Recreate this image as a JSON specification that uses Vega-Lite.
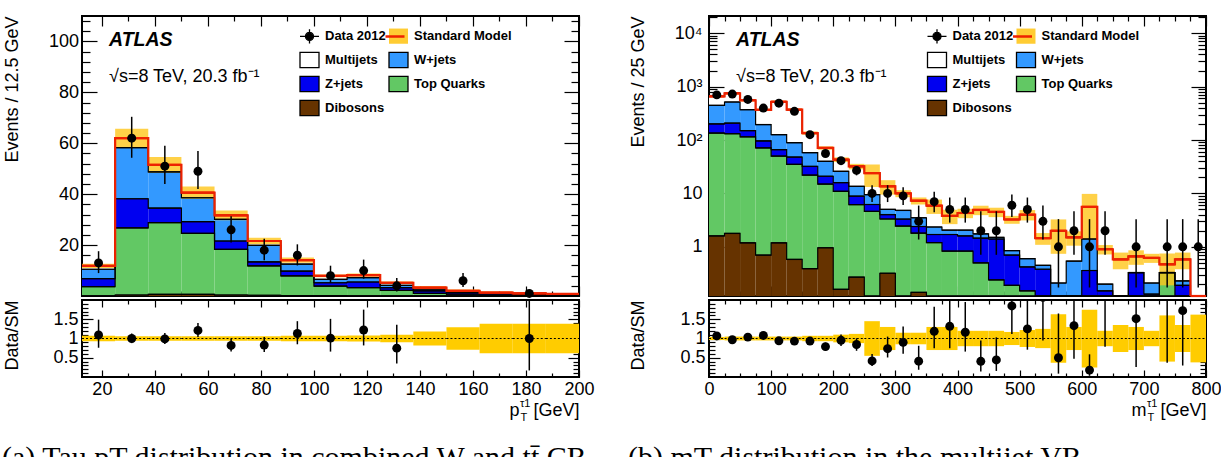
{
  "$schema": "https://vega.github.io/schema/vega-lite/v6.json",
  "background": "white",
  "padding": {"left": 1, "top": 14, "right": 2, "bottom": 0},
  "spacing": 31,
  "resolve": {"scale": {"fill": "independent", "stroke": "independent"}, "legend": {"fill": "independent", "stroke": "independent"}},
  "config": {
    "view": {"stroke": "black", "strokeWidth": 2},
    "font": "Liberation Sans",
    "axis": {"domain": false, "grid": false, "tickColor": "black", "tickWidth": 1.2, "labelFont": "Liberation Sans", "labelFontSize": 18, "labelColor": "black", "labelFlush": false, "labelOverlap": false, "titleFont": "Liberation Sans", "titleFontSize": 18, "titleFontWeight": "normal", "titleColor": "black"}
  },
  "datasets": {
    "ptBkg": [
      {"lo":12.5,"hi":25,"proc":"Dibosons","n":0.1},{"lo":12.5,"hi":25,"proc":"Top Quarks","n":3.6},{"lo":12.5,"hi":25,"proc":"Z+jets","n":3.1},{"lo":12.5,"hi":25,"proc":"W+jets","n":3.7},{"lo":12.5,"hi":25,"proc":"Multijets","n":1.3},
      {"lo":25,"hi":37.5,"proc":"Dibosons","n":0.4},{"lo":25,"hi":37.5,"proc":"Top Quarks","n":26.4},{"lo":25,"hi":37.5,"proc":"Z+jets","n":11.4},{"lo":25,"hi":37.5,"proc":"W+jets","n":20.1},{"lo":25,"hi":37.5,"proc":"Multijets","n":3.7},
      {"lo":37.5,"hi":50,"proc":"Dibosons","n":0.6},{"lo":37.5,"hi":50,"proc":"Top Quarks","n":28.2},{"lo":37.5,"hi":50,"proc":"Z+jets","n":5.7},{"lo":37.5,"hi":50,"proc":"W+jets","n":14.3},{"lo":37.5,"hi":50,"proc":"Multijets","n":2.7},
      {"lo":50,"hi":62.5,"proc":"Dibosons","n":0.6},{"lo":50,"hi":62.5,"proc":"Top Quarks","n":24.0},{"lo":50,"hi":62.5,"proc":"Z+jets","n":4.6},{"lo":50,"hi":62.5,"proc":"W+jets","n":9.4},{"lo":50,"hi":62.5,"proc":"Multijets","n":2.0},
      {"lo":62.5,"hi":75,"proc":"Dibosons","n":0.4},{"lo":62.5,"hi":75,"proc":"Top Quarks","n":17.9},{"lo":62.5,"hi":75,"proc":"Z+jets","n":3.3},{"lo":62.5,"hi":75,"proc":"W+jets","n":8.5},{"lo":62.5,"hi":75,"proc":"Multijets","n":1.6},
      {"lo":75,"hi":87.5,"proc":"Dibosons","n":0.3},{"lo":75,"hi":87.5,"proc":"Top Quarks","n":11.5},{"lo":75,"hi":87.5,"proc":"Z+jets","n":1.6},{"lo":75,"hi":87.5,"proc":"W+jets","n":6.5},{"lo":75,"hi":87.5,"proc":"Multijets","n":1.7},
      {"lo":87.5,"hi":100,"proc":"Dibosons","n":0.2},{"lo":87.5,"hi":100,"proc":"Top Quarks","n":7.7},{"lo":87.5,"hi":100,"proc":"Z+jets","n":1.9},{"lo":87.5,"hi":100,"proc":"W+jets","n":2.7},{"lo":87.5,"hi":100,"proc":"Multijets","n":1.6},
      {"lo":100,"hi":112.5,"proc":"Dibosons","n":0.15},{"lo":100,"hi":112.5,"proc":"Top Quarks","n":3.75},{"lo":100,"hi":112.5,"proc":"Z+jets","n":1.3},{"lo":100,"hi":112.5,"proc":"W+jets","n":1.3},{"lo":100,"hi":112.5,"proc":"Multijets","n":1.4},
      {"lo":112.5,"hi":125,"proc":"Dibosons","n":0.1},{"lo":112.5,"hi":125,"proc":"Top Quarks","n":3.2},{"lo":112.5,"hi":125,"proc":"Z+jets","n":2.2},{"lo":112.5,"hi":125,"proc":"W+jets","n":1.7},{"lo":112.5,"hi":125,"proc":"Multijets","n":1.0},
      {"lo":125,"hi":137.5,"proc":"Dibosons","n":0.1},{"lo":125,"hi":137.5,"proc":"Top Quarks","n":2.1},{"lo":125,"hi":137.5,"proc":"Z+jets","n":1.1},{"lo":125,"hi":137.5,"proc":"W+jets","n":0.9},{"lo":125,"hi":137.5,"proc":"Multijets","n":1.0},
      {"lo":137.5,"hi":150,"proc":"Dibosons","n":0.05},{"lo":137.5,"hi":150,"proc":"Top Quarks","n":0.95},{"lo":137.5,"hi":150,"proc":"Z+jets","n":1.0},{"lo":137.5,"hi":150,"proc":"W+jets","n":0.4},{"lo":137.5,"hi":150,"proc":"Multijets","n":0.9},
      {"lo":150,"hi":162.5,"proc":"Dibosons","n":0.05},{"lo":150,"hi":162.5,"proc":"Top Quarks","n":0.45},{"lo":150,"hi":162.5,"proc":"Z+jets","n":0.7},{"lo":150,"hi":162.5,"proc":"W+jets","n":0.4},{"lo":150,"hi":162.5,"proc":"Multijets","n":0.4},
      {"lo":162.5,"hi":175,"proc":"Dibosons","n":0.02},{"lo":162.5,"hi":175,"proc":"Top Quarks","n":0.28},{"lo":162.5,"hi":175,"proc":"Z+jets","n":0.5},{"lo":162.5,"hi":175,"proc":"W+jets","n":0.2},{"lo":162.5,"hi":175,"proc":"Multijets","n":0.3},
      {"lo":175,"hi":187.5,"proc":"Dibosons","n":0.02},{"lo":175,"hi":187.5,"proc":"Top Quarks","n":0.18},{"lo":175,"hi":187.5,"proc":"Z+jets","n":0.3},{"lo":175,"hi":187.5,"proc":"W+jets","n":0.3},{"lo":175,"hi":187.5,"proc":"Multijets","n":0.2},
      {"lo":187.5,"hi":200,"proc":"Dibosons","n":0.02},{"lo":187.5,"hi":200,"proc":"Top Quarks","n":0.15},{"lo":187.5,"hi":200,"proc":"Z+jets","n":0.25},{"lo":187.5,"hi":200,"proc":"W+jets","n":0.2},{"lo":187.5,"hi":200,"proc":"Multijets","n":0.18}
    ],
    "ptSM": [
      {"lo":12.5,"hi":25,"sm":11.8,"down":10.97,"up":12.63,"rDown":0.93,"rUp":1.07},
      {"lo":25,"hi":37.5,"sm":62.0,"down":58.28,"up":65.72,"rDown":0.94,"rUp":1.06},
      {"lo":37.5,"hi":50,"sm":51.5,"down":48.41,"up":54.59,"rDown":0.94,"rUp":1.06},
      {"lo":50,"hi":62.5,"sm":40.6,"down":38.16,"up":43.04,"rDown":0.94,"rUp":1.06},
      {"lo":62.5,"hi":75,"sm":31.7,"down":29.8,"up":33.6,"rDown":0.94,"rUp":1.06},
      {"lo":75,"hi":87.5,"sm":21.6,"down":20.3,"up":22.9,"rDown":0.94,"rUp":1.06},
      {"lo":87.5,"hi":100,"sm":14.1,"down":13.11,"up":15.09,"rDown":0.93,"rUp":1.07},
      {"lo":100,"hi":112.5,"sm":7.9,"down":7.35,"up":8.45,"rDown":0.93,"rUp":1.07},
      {"lo":112.5,"hi":125,"sm":8.2,"down":7.54,"up":8.86,"rDown":0.92,"rUp":1.08},
      {"lo":125,"hi":137.5,"sm":5.2,"down":4.68,"up":5.72,"rDown":0.9,"rUp":1.1},
      {"lo":137.5,"hi":150,"sm":3.3,"down":2.71,"up":3.89,"rDown":0.82,"rUp":1.18},
      {"lo":150,"hi":162.5,"sm":2.0,"down":1.42,"up":2.58,"rDown":0.71,"rUp":1.29},
      {"lo":162.5,"hi":175,"sm":1.3,"down":0.81,"up":1.79,"rDown":0.62,"rUp":1.38},
      {"lo":175,"hi":187.5,"sm":1.0,"down":0.62,"up":1.38,"rDown":0.62,"rUp":1.38},
      {"lo":187.5,"hi":200,"sm":0.8,"down":0.5,"up":1.1,"rDown":0.62,"rUp":1.38}
    ],
    "ptData": [
      {"x":18.75,"n":13,"lo":9.0,"hi":17.6,"r":1.09,"rLo":0.76,"rHi":1.49},
      {"x":31.25,"n":62,"lo":54.3,"hi":70.4,"r":1.0,"rLo":0.88,"rHi":1.13},
      {"x":43.75,"n":51,"lo":44.0,"hi":59.0,"r":0.99,"rLo":0.86,"rHi":1.14},
      {"x":56.25,"n":49,"lo":42.0,"hi":57.0,"r":1.21,"rLo":1.04,"rHi":1.40},
      {"x":68.75,"n":26,"lo":21.0,"hi":31.3,"r":0.82,"rLo":0.66,"rHi":0.99},
      {"x":81.25,"n":18,"lo":14.0,"hi":22.5,"r":0.83,"rLo":0.65,"rHi":1.04},
      {"x":93.75,"n":16,"lo":12.0,"hi":20.3,"r":1.13,"rLo":0.85,"rHi":1.45},
      {"x":106.25,"n":8,"lo":5.2,"hi":11.9,"r":1.01,"rLo":0.66,"rHi":1.51},
      {"x":118.75,"n":10,"lo":6.8,"hi":14.3,"r":1.22,"rLo":0.82,"rHi":1.75},
      {"x":131.25,"n":4,"lo":1.8,"hi":7.1,"r":0.75,"rLo":0.35,"rHi":1.36},
      {"x":156.25,"n":6,"lo":3.5,"hi":9.0,"r":null,"rLo":null,"rHi":null},
      {"x":181.25,"n":1,"lo":0.17,"hi":2.3,"r":1.0,"rLo":0.17,"rHi":2.3}
    ],
    "mtBkg": [
      {"lo":0,"hi":25,"proc":"Dibosons","n":1.6},{"lo":0,"hi":25,"proc":"Top Quarks","n":133.4},{"lo":0,"hi":25,"proc":"Z+jets","n":65},{"lo":0,"hi":25,"proc":"W+jets","n":245},{"lo":0,"hi":25,"proc":"Multijets","n":211},
      {"lo":25,"hi":50,"proc":"Dibosons","n":1.78},{"lo":25,"hi":50,"proc":"Top Quarks","n":129.2},{"lo":25,"hi":50,"proc":"Z+jets","n":76},{"lo":25,"hi":50,"proc":"W+jets","n":308},{"lo":25,"hi":50,"proc":"Multijets","n":235},
      {"lo":50,"hi":75,"proc":"Dibosons","n":1.19},{"lo":50,"hi":75,"proc":"Top Quarks","n":113.8},{"lo":50,"hi":75,"proc":"Z+jets","n":35},{"lo":50,"hi":75,"proc":"W+jets","n":220},{"lo":50,"hi":75,"proc":"Multijets","n":185},
      {"lo":75,"hi":100,"proc":"Dibosons","n":0.7},{"lo":75,"hi":100,"proc":"Top Quarks","n":70.3},{"lo":75,"hi":100,"proc":"Z+jets","n":25},{"lo":75,"hi":100,"proc":"W+jets","n":99},{"lo":75,"hi":100,"proc":"Multijets","n":172},
      {"lo":100,"hi":125,"proc":"Dibosons","n":1.19},{"lo":100,"hi":125,"proc":"Top Quarks","n":48.8},{"lo":100,"hi":125,"proc":"Z+jets","n":16},{"lo":100,"hi":125,"proc":"W+jets","n":60},{"lo":100,"hi":125,"proc":"Multijets","n":395},
      {"lo":125,"hi":150,"proc":"Dibosons","n":0.58},{"lo":125,"hi":150,"proc":"Top Quarks","n":34.4},{"lo":125,"hi":150,"proc":"Z+jets","n":13},{"lo":125,"hi":150,"proc":"W+jets","n":41},{"lo":125,"hi":150,"proc":"Multijets","n":281},
      {"lo":150,"hi":175,"proc":"Dibosons","n":0.39},{"lo":150,"hi":175,"proc":"Top Quarks","n":21.6},{"lo":150,"hi":175,"proc":"Z+jets","n":10},{"lo":150,"hi":175,"proc":"W+jets","n":26},{"lo":150,"hi":175,"proc":"Multijets","n":77},
      {"lo":175,"hi":200,"proc":"Dibosons","n":0.96},{"lo":175,"hi":200,"proc":"Top Quarks","n":14.0},{"lo":175,"hi":200,"proc":"Z+jets","n":6},{"lo":175,"hi":200,"proc":"W+jets","n":19},{"lo":175,"hi":200,"proc":"Multijets","n":31},
      {"lo":200,"hi":225,"proc":"Dibosons","n":0.16},{"lo":200,"hi":225,"proc":"Top Quarks","n":10.8},{"lo":200,"hi":225,"proc":"Z+jets","n":5},{"lo":200,"hi":225,"proc":"W+jets","n":10},{"lo":200,"hi":225,"proc":"Multijets","n":17},
      {"lo":225,"hi":250,"proc":"Dibosons","n":0.27},{"lo":225,"hi":250,"proc":"Top Quarks","n":5.9},{"lo":225,"hi":250,"proc":"Z+jets","n":2.7},{"lo":225,"hi":250,"proc":"W+jets","n":4.7},{"lo":225,"hi":250,"proc":"Multijets","n":18.4},
      {"lo":250,"hi":275,"proc":"Dibosons","n":0},{"lo":250,"hi":275,"proc":"Top Quarks","n":4.6},{"lo":250,"hi":275,"proc":"Z+jets","n":1.6},{"lo":250,"hi":275,"proc":"W+jets","n":3.3},{"lo":250,"hi":275,"proc":"Multijets","n":14.5},
      {"lo":275,"hi":300,"proc":"Dibosons","n":0.32},{"lo":275,"hi":300,"proc":"Top Quarks","n":3.0},{"lo":275,"hi":300,"proc":"Z+jets","n":0.7},{"lo":275,"hi":300,"proc":"W+jets","n":1.0},{"lo":275,"hi":300,"proc":"Multijets","n":8.6},
      {"lo":300,"hi":325,"proc":"Dibosons","n":0},{"lo":300,"hi":325,"proc":"Top Quarks","n":2.45},{"lo":300,"hi":325,"proc":"Z+jets","n":0.85},{"lo":300,"hi":325,"proc":"W+jets","n":1.5},{"lo":300,"hi":325,"proc":"Multijets","n":5.2},
      {"lo":325,"hi":350,"proc":"Dibosons","n":0.14},{"lo":325,"hi":350,"proc":"Top Quarks","n":1.66},{"lo":325,"hi":350,"proc":"Z+jets","n":0.6},{"lo":325,"hi":350,"proc":"W+jets","n":1.1},{"lo":325,"hi":350,"proc":"Multijets","n":3.8},
      {"lo":350,"hi":375,"proc":"Dibosons","n":0},{"lo":350,"hi":375,"proc":"Top Quarks","n":1.2},{"lo":350,"hi":375,"proc":"Z+jets","n":0.5},{"lo":350,"hi":375,"proc":"W+jets","n":0.65},{"lo":350,"hi":375,"proc":"Multijets","n":3.55},
      {"lo":375,"hi":400,"proc":"Dibosons","n":0},{"lo":375,"hi":400,"proc":"Top Quarks","n":0.83},{"lo":375,"hi":400,"proc":"Z+jets","n":0.87},{"lo":375,"hi":400,"proc":"W+jets","n":0.35},{"lo":375,"hi":400,"proc":"Multijets","n":1.75},
      {"lo":400,"hi":425,"proc":"Dibosons","n":0},{"lo":400,"hi":425,"proc":"Top Quarks","n":0.83},{"lo":400,"hi":425,"proc":"Z+jets","n":0.77},{"lo":400,"hi":425,"proc":"W+jets","n":0.45},{"lo":400,"hi":425,"proc":"Multijets","n":2.25},
      {"lo":425,"hi":450,"proc":"Dibosons","n":0},{"lo":425,"hi":450,"proc":"Top Quarks","n":0.5},{"lo":425,"hi":450,"proc":"Z+jets","n":0.95},{"lo":425,"hi":450,"proc":"W+jets","n":0.3},{"lo":425,"hi":450,"proc":"Multijets","n":3.15},
      {"lo":450,"hi":475,"proc":"Dibosons","n":0},{"lo":450,"hi":475,"proc":"Top Quarks","n":0.24},{"lo":450,"hi":475,"proc":"Z+jets","n":1.16},{"lo":450,"hi":475,"proc":"W+jets","n":0.1},{"lo":450,"hi":475,"proc":"Multijets","n":3.0},
      {"lo":475,"hi":500,"proc":"Dibosons","n":0},{"lo":475,"hi":500,"proc":"Top Quarks","n":0.19},{"lo":475,"hi":500,"proc":"Z+jets","n":0.51},{"lo":475,"hi":500,"proc":"W+jets","n":0.15},{"lo":475,"hi":500,"proc":"Multijets","n":2.4},
      {"lo":500,"hi":525,"proc":"Dibosons","n":0},{"lo":500,"hi":525,"proc":"Top Quarks","n":0.15},{"lo":500,"hi":525,"proc":"Z+jets","n":0.27},{"lo":500,"hi":525,"proc":"W+jets","n":0.18},{"lo":500,"hi":525,"proc":"Multijets","n":3.4},
      {"lo":525,"hi":550,"proc":"Dibosons","n":0},{"lo":525,"hi":550,"proc":"Top Quarks","n":0},{"lo":525,"hi":550,"proc":"Z+jets","n":0.38},{"lo":525,"hi":550,"proc":"W+jets","n":0.07},{"lo":525,"hi":550,"proc":"Multijets","n":1.0},
      {"lo":550,"hi":575,"proc":"Dibosons","n":0},{"lo":550,"hi":575,"proc":"Top Quarks","n":0},{"lo":550,"hi":575,"proc":"Z+jets","n":0},{"lo":550,"hi":575,"proc":"W+jets","n":0.21},{"lo":550,"hi":575,"proc":"Multijets","n":1.79},
      {"lo":575,"hi":600,"proc":"Dibosons","n":0},{"lo":575,"hi":600,"proc":"Top Quarks","n":0},{"lo":575,"hi":600,"proc":"Z+jets","n":0},{"lo":575,"hi":600,"proc":"W+jets","n":0.54},{"lo":575,"hi":600,"proc":"Multijets","n":0.96},
      {"lo":600,"hi":625,"proc":"Dibosons","n":0},{"lo":600,"hi":625,"proc":"Top Quarks","n":0},{"lo":600,"hi":625,"proc":"Z+jets","n":0.36},{"lo":600,"hi":625,"proc":"W+jets","n":1.04},{"lo":600,"hi":625,"proc":"Multijets","n":4.2},
      {"lo":625,"hi":650,"proc":"Dibosons","n":0},{"lo":625,"hi":650,"proc":"Top Quarks","n":0},{"lo":625,"hi":650,"proc":"Z+jets","n":0.15},{"lo":625,"hi":650,"proc":"W+jets","n":0.05},{"lo":625,"hi":650,"proc":"Multijets","n":0.7},
      {"lo":650,"hi":675,"proc":"Dibosons","n":0},{"lo":650,"hi":675,"proc":"Top Quarks","n":0},{"lo":650,"hi":675,"proc":"Z+jets","n":0},{"lo":650,"hi":675,"proc":"W+jets","n":0},{"lo":650,"hi":675,"proc":"Multijets","n":0.58},
      {"lo":675,"hi":700,"proc":"Dibosons","n":0},{"lo":675,"hi":700,"proc":"Top Quarks","n":0},{"lo":675,"hi":700,"proc":"Z+jets","n":0.33},{"lo":675,"hi":700,"proc":"W+jets","n":0},{"lo":675,"hi":700,"proc":"Multijets","n":0.33},
      {"lo":700,"hi":725,"proc":"Dibosons","n":0},{"lo":700,"hi":725,"proc":"Top Quarks","n":0},{"lo":700,"hi":725,"proc":"Z+jets","n":0.13},{"lo":700,"hi":725,"proc":"W+jets","n":0.08},{"lo":700,"hi":725,"proc":"Multijets","n":0.41},
      {"lo":725,"hi":750,"proc":"Dibosons","n":0},{"lo":725,"hi":750,"proc":"Top Quarks","n":0.33},{"lo":725,"hi":750,"proc":"Z+jets","n":0},{"lo":725,"hi":750,"proc":"W+jets","n":0},{"lo":725,"hi":750,"proc":"Multijets","n":0.14},
      {"lo":750,"hi":775,"proc":"Dibosons","n":0},{"lo":750,"hi":775,"proc":"Top Quarks","n":0},{"lo":750,"hi":775,"proc":"Z+jets","n":0.19},{"lo":750,"hi":775,"proc":"W+jets","n":0.04},{"lo":750,"hi":775,"proc":"Multijets","n":0.35},
      {"lo":775,"hi":800,"proc":"Dibosons","n":0},{"lo":775,"hi":800,"proc":"Top Quarks","n":0},{"lo":775,"hi":800,"proc":"Z+jets","n":0},{"lo":775,"hi":800,"proc":"W+jets","n":0},{"lo":775,"hi":800,"proc":"Multijets","n":0}
    ],
    "mtSM": [
      {"lo":0,"hi":25,"sm":656,"down":629.8,"up":682.2,"rDown":0.96,"rUp":1.04},
      {"lo":25,"hi":50,"sm":750,"down":712.5,"up":787.5,"rDown":0.95,"rUp":1.05},
      {"lo":50,"hi":75,"sm":555,"down":527.3,"up":582.8,"rDown":0.95,"rUp":1.05},
      {"lo":75,"hi":100,"sm":367,"down":348.7,"up":385.4,"rDown":0.95,"rUp":1.05},
      {"lo":100,"hi":125,"sm":521,"down":495.0,"up":547.1,"rDown":0.95,"rUp":1.05},
      {"lo":125,"hi":150,"sm":370,"down":351.5,"up":388.5,"rDown":0.95,"rUp":1.05},
      {"lo":150,"hi":175,"sm":135,"down":125.6,"up":144.5,"rDown":0.93,"rUp":1.07},
      {"lo":175,"hi":200,"sm":71,"down":66.0,"up":76.0,"rDown":0.93,"rUp":1.07},
      {"lo":200,"hi":225,"sm":43,"down":38.7,"up":47.3,"rDown":0.9,"rUp":1.1},
      {"lo":225,"hi":250,"sm":32,"down":28.2,"up":35.8,"rDown":0.88,"rUp":1.12},
      {"lo":250,"hi":275,"sm":24,"down":13.2,"up":34.8,"rDown":0.55,"rUp":1.45},
      {"lo":275,"hi":300,"sm":13.6,"down":9.5,"up":17.7,"rDown":0.7,"rUp":1.3},
      {"lo":300,"hi":325,"sm":10,"down":8.5,"up":11.5,"rDown":0.85,"rUp":1.15},
      {"lo":325,"hi":350,"sm":7.3,"down":6.2,"up":8.4,"rDown":0.85,"rUp":1.15},
      {"lo":350,"hi":375,"sm":5.9,"down":4.13,"up":7.67,"rDown":0.7,"rUp":1.3},
      {"lo":375,"hi":400,"sm":3.8,"down":2.66,"up":4.94,"rDown":0.7,"rUp":1.3},
      {"lo":400,"hi":425,"sm":4.3,"down":3.44,"up":5.16,"rDown":0.8,"rUp":1.2},
      {"lo":425,"hi":450,"sm":4.9,"down":3.92,"up":5.88,"rDown":0.8,"rUp":1.2},
      {"lo":450,"hi":475,"sm":4.5,"down":3.6,"up":5.4,"rDown":0.8,"rUp":1.2},
      {"lo":475,"hi":500,"sm":3.25,"down":2.7,"up":3.8,"rDown":0.83,"rUp":1.17},
      {"lo":500,"hi":525,"sm":4.0,"down":3.12,"up":4.88,"rDown":0.78,"rUp":1.22},
      {"lo":525,"hi":550,"sm":1.45,"down":1.09,"up":1.81,"rDown":0.75,"rUp":1.25},
      {"lo":550,"hi":575,"sm":2.0,"down":0.74,"up":3.26,"rDown":0.37,"rUp":1.63},
      {"lo":575,"hi":600,"sm":1.5,"down":1.05,"up":1.95,"rDown":0.7,"rUp":1.3},
      {"lo":600,"hi":625,"sm":5.6,"down":1.4,"up":9.8,"rDown":0.25,"rUp":1.75},
      {"lo":625,"hi":650,"sm":0.9,"down":0.72,"up":1.08,"rDown":0.8,"rUp":1.2},
      {"lo":650,"hi":675,"sm":0.58,"down":0.38,"up":0.78,"rDown":0.65,"rUp":1.35},
      {"lo":675,"hi":700,"sm":0.66,"down":0.46,"up":0.86,"rDown":0.7,"rUp":1.3},
      {"lo":700,"hi":725,"sm":0.62,"down":0.5,"up":0.74,"rDown":0.8,"rUp":1.2},
      {"lo":725,"hi":750,"sm":0.47,"down":0.19,"up":0.75,"rDown":0.4,"rUp":1.6},
      {"lo":750,"hi":775,"sm":0.58,"down":0.38,"up":0.78,"rDown":0.65,"rUp":1.35},
      {"lo":775,"hi":800,"sm":0,"down":0,"up":0,"rDown":0.38,"rUp":1.62}
    ],
    "mtData": [
      {"x":12.5,"n":700,"lo":673.5,"hi":726.5,"r":1.067,"rLo":1.027,"rHi":1.107},
      {"x":37.5,"n":725,"lo":698,"hi":752,"r":0.967,"rLo":0.931,"rHi":1.003},
      {"x":62.5,"n":575,"lo":551,"hi":599,"r":1.036,"rLo":0.993,"rHi":1.079},
      {"x":87.5,"n":396,"lo":376,"hi":416,"r":1.079,"rLo":1.025,"rHi":1.133},
      {"x":112.5,"n":490,"lo":468,"hi":512,"r":0.94,"rLo":0.898,"rHi":0.982},
      {"x":137.5,"n":345,"lo":326.4,"hi":363.6,"r":0.932,"rLo":0.882,"rHi":0.983},
      {"x":162.5,"n":126,"lo":114.8,"hi":137.2,"r":0.933,"rLo":0.85,"rHi":1.016},
      {"x":187.5,"n":56,"lo":48.5,"hi":63.5,"r":0.789,"rLo":0.684,"rHi":0.894},
      {"x":212.5,"n":41,"lo":34.6,"hi":47.4,"r":0.953,"rLo":0.805,"rHi":1.102},
      {"x":237.5,"n":27,"lo":21.8,"hi":32.2,"r":0.844,"rLo":0.681,"rHi":1.006},
      {"x":262.5,"n":10,"lo":6.89,"hi":14.27,"r":0.417,"rLo":0.287,"rHi":0.595},
      {"x":287.5,"n":10,"lo":6.89,"hi":14.27,"r":0.735,"rLo":0.507,"rHi":1.049},
      {"x":312.5,"n":9,"lo":6.06,"hi":13.1,"r":0.9,"rLo":0.606,"rHi":1.31},
      {"x":337.5,"n":3,"lo":1.37,"hi":5.92,"r":0.411,"rLo":0.188,"rHi":0.811},
      {"x":362.5,"n":7,"lo":4.42,"hi":10.77,"r":1.186,"rLo":0.749,"rHi":1.825},
      {"x":387.5,"n":5,"lo":2.84,"hi":8.38,"r":1.316,"rLo":0.747,"rHi":2.205},
      {"x":412.5,"n":5,"lo":2.84,"hi":8.38,"r":1.163,"rLo":0.66,"rHi":1.949},
      {"x":437.5,"n":2,"lo":0.708,"hi":4.64,"r":0.408,"rLo":0.144,"rHi":0.947},
      {"x":462.5,"n":2,"lo":0.708,"hi":4.64,"r":0.444,"rLo":0.157,"rHi":1.031},
      {"x":487.5,"n":6,"lo":3.62,"hi":9.58,"r":1.846,"rLo":1.114,"rHi":2.948},
      {"x":512.5,"n":5,"lo":2.84,"hi":8.38,"r":1.25,"rLo":0.71,"rHi":2.095},
      {"x":537.5,"n":3,"lo":1.37,"hi":5.92,"r":2.069,"rLo":0.945,"rHi":4.08},
      {"x":562.5,"n":1,"lo":0.173,"hi":3.3,"r":0.5,"rLo":0.087,"rHi":1.65},
      {"x":587.5,"n":2,"lo":0.708,"hi":4.64,"r":1.333,"rLo":0.472,"rHi":3.09},
      {"x":612.5,"n":1,"lo":0.173,"hi":3.3,"r":0.179,"rLo":0.031,"rHi":0.589},
      {"x":637.5,"n":2,"lo":0.708,"hi":4.64,"r":2.222,"rLo":0.787,"rHi":5.16},
      {"x":687.5,"n":1,"lo":0.173,"hi":3.3,"r":1.515,"rLo":0.262,"rHi":5.0},
      {"x":737.5,"n":1,"lo":0.173,"hi":3.3,"r":2.128,"rLo":0.368,"rHi":7.02},
      {"x":762.5,"n":1,"lo":0.173,"hi":3.3,"r":1.724,"rLo":0.298,"rHi":5.69},
      {"x":787.5,"n":1,"lo":0.173,"hi":3.3,"r":null,"rLo":null,"rHi":null}
    ]
  },
  "hconcat": [
    {
      "spacing": 4,
      "bounds": "flush",
      "resolve": {"scale": {"fill": "independent", "stroke": "independent"}, "legend": {"fill": "independent", "stroke": "independent"}},
      "title": {"text": "(a) Tau pT distribution in combined W and tt̄ CR", "orient": "bottom", "anchor": "start", "frame": "bounds", "font": "Liberation Serif", "fontSize": 30, "fontWeight": "normal", "color": "black", "baseline": "top", "offset": 20},
      "vconcat": [
        {
          "width": 497,
          "height": 280,
          "resolve": {"axis": {"x": "independent", "y": "independent"}},
          "layer": [
            {
              "data": {"name": "ptBkg"},
              "transform": [{"stack": "n", "groupby": ["lo"], "as": ["y0", "y1"]}],
              "mark": {"type": "rect"},
              "encoding": {
                "x": {"field": "lo", "type": "quantitative", "scale": {"domain": [12.5, 200], "nice": false, "zero": false},
                      "axis": {"orient": "bottom", "values": [20,40,60,80,100,120,140,160,180,200], "tickSize": -10, "labels": false, "title": null}},
                "x2": {"field": "hi"},
                "y": {"field": "y0", "type": "quantitative", "scale": {"domain": [0, 110], "nice": false, "zero": false},
                      "axis": {"orient": "left", "values": [20,40,60,80,100], "tickSize": -15, "labelPadding": 18.5,
                               "title": "Events / 12.5 GeV", "titleX": -70, "titleY": 0, "titleAngle": -90, "titleAlign": "right", "titleBaseline": "middle"}},
                "y2": {"field": "y1"},
                "fill": {"field": "proc", "type": "nominal",
                         "scale": {"domain": ["Data 2012", "Multijets", "Z+jets", "Dibosons", "Standard Model", "W+jets", "Top Quarks"],
                                   "range": ["black", "white", "#0000f0", "#663300", "#ffcc33", "#3399ff", "#62c864"]},
                         "legend": {"orient": "none", "legendX": 217, "legendY": 9.5, "columns": 2, "title": null, "padding": 0,
                                    "symbolSize": 361, "symbolOpacity": 1, "symbolStrokeWidth": 1.3, "labelOffset": 5, "rowPadding": 3, "columnPadding": 0,
                                    "labelFont": "Liberation Sans", "labelFontSize": 13, "labelFontWeight": "bold", "labelColor": "black",
                                    "encode": {"symbols": {"update": {
                                      "shape": {"signal": "datum.value === 'Data 2012' ? 'M-1,0H1M0,-0.75V0.75M-0.42,0A0.42,0.42,0,1,0,0.42,0A0.42,0.42,0,1,0,-0.42,0Z' : 'M-1,-0.8H1V0.8H-1Z'"},
                                      "stroke": {"signal": "datum.value === 'Standard Model' ? 'transparent' : 'black'"},
                                      "opacity": {"value": 1}}}}}}
              }
            },
            {
              "data": {"name": "ptSM"},
              "mark": {"type": "rect", "fill": "#ffc61a", "opacity": 0.8},
              "encoding": {
                "x": {"field": "lo", "type": "quantitative", "axis": {"orient": "bottom", "values": [30,50,70,90,110,130,150,170,190], "tickSize": -5, "labels": false, "title": null}},
                "x2": {"field": "hi"},
                "y": {"field": "down", "type": "quantitative", "axis": {"orient": "left", "values": [4,8,12,16,24,28,32,36,44,48,52,56,64,68,72,76,84,88,92,96,104,108], "tickSize": -8, "labels": false, "title": null}},
                "y2": {"field": "up"}
              }
            },
            {
              "data": {"name": "ptBkg"},
              "transform": [{"stack": "n", "groupby": ["lo"], "as": ["y0", "y1"]}],
              "mark": {"type": "rule", "color": "black", "strokeWidth": 1.2},
              "encoding": {
                "x": {"field": "lo", "type": "quantitative", "axis": {"orient": "top", "values": [20,40,60,80,100,120,140,160,180,200], "tickSize": -10, "labels": false, "title": null}},
                "x2": {"field": "hi"},
                "y": {"field": "y1", "type": "quantitative", "axis": {"orient": "right", "values": [20,40,60,80,100], "tickSize": -15, "labels": false, "title": null}}
              }
            },
            {
              "data": {"name": "ptBkg"},
              "transform": [{"stack": "n", "groupby": ["lo"], "as": ["y0", "y1"]}],
              "mark": {"type": "line", "interpolate": "step-after", "color": "black", "strokeWidth": 1.2},
              "encoding": {
                "x": {"field": "lo", "type": "quantitative", "axis": {"orient": "top", "values": [30,50,70,90,110,130,150,170,190], "tickSize": -5, "labels": false, "title": null}},
                "y": {"field": "y1", "type": "quantitative", "axis": {"orient": "right", "values": [4,8,12,16,24,28,32,36,44,48,52,56,64,68,72,76,84,88,92,96,104,108], "tickSize": -8, "labels": false, "title": null}},
                "detail": {"field": "proc"}
              }
            },
            {
              "data": {"name": "ptSM"},
              "mark": {"type": "rule", "strokeWidth": 2.2},
              "encoding": {
                "x": {"field": "lo", "type": "quantitative", "axis": null},
                "x2": {"field": "hi"},
                "y": {"field": "sm", "type": "quantitative", "axis": null},
                "stroke": {"datum": "Standard Model", "type": "nominal", "scale": {"range": ["#ee2200"]},
                           "legend": {"orient": "none", "legendX": 302, "legendY": 9.5, "title": null, "padding": 0, "symbolType": "stroke",
                                      "symbolSize": 361, "symbolStrokeWidth": 2.5, "labelExpr": "''", "labelFontSize": 13, "labelOffset": 5}}
              }
            },
            {
              "data": {"name": "ptSM"},
              "mark": {"type": "line", "interpolate": "step-after", "color": "#ee2200", "strokeWidth": 2.2},
              "encoding": {
                "x": {"field": "lo", "type": "quantitative", "axis": null},
                "y": {"field": "sm", "type": "quantitative", "axis": null}
              }
            },
            {
              "data": {"name": "ptData"},
              "mark": {"type": "rule", "color": "black", "strokeWidth": 1.5},
              "encoding": {
                "x": {"field": "x", "type": "quantitative", "axis": null},
                "y": {"field": "lo", "type": "quantitative", "axis": null},
                "y2": {"field": "hi"}
              }
            },
            {
              "data": {"name": "ptData"},
              "mark": {"type": "circle", "size": 80, "color": "black", "opacity": 1},
              "encoding": {
                "x": {"field": "x", "type": "quantitative", "axis": null},
                "y": {"field": "n", "type": "quantitative", "axis": null}
              }
            },
            {
              "data": {"values": [{}]},
              "mark": {"type": "text", "text": "ATLAS", "font": "Liberation Sans", "fontSize": 19.5, "fontWeight": "bold", "fontStyle": "italic", "align": "left", "baseline": "alphabetic", "color": "black"},
              "encoding": {
                "x": {"datum": 22.7, "type": "quantitative", "axis": null},
                "y": {"datum": 98.2, "type": "quantitative", "axis": null}
              }
            },
            {
              "data": {"values": [{}]},
              "mark": {"type": "text", "text": "√s=8 TeV, 20.3 fb⁻¹", "font": "Liberation Sans", "fontSize": 18, "align": "left", "baseline": "alphabetic", "color": "black"},
              "encoding": {
                "x": {"datum": 22.7, "type": "quantitative", "axis": null},
                "y": {"datum": 84.2, "type": "quantitative", "axis": null}
              }
            }
          ]
        },
        {
          "width": 497,
          "height": 77,
          "resolve": {"axis": {"x": "independent", "y": "independent"}},
          "layer": [
            {
              "data": {"name": "ptSM"},
              "mark": {"type": "rect", "fill": "#ffcc00"},
              "encoding": {
                "x": {"field": "lo", "type": "quantitative", "scale": {"domain": [12.5, 200], "nice": false, "zero": false},
                      "axis": {"orient": "bottom", "values": [20,40,60,80,100,120,140,160,180,200], "tickSize": -7, "labelPadding": 10,
                               "title": "[GeV]", "titleX": 497, "titleY": 38, "titleAlign": "right", "titleBaseline": "alphabetic"}},
                "x2": {"field": "hi"},
                "y": {"field": "rDown", "type": "quantitative", "scale": {"domain": [0, 2], "nice": false, "zero": false},
                      "axis": {"orient": "left", "values": [0.5, 1, 1.5], "format": "~g", "tickSize": -11, "labelPadding": 15,
                               "title": "Data/SM", "titleX": -70, "titleY": 0, "titleAngle": -90, "titleAlign": "right", "titleBaseline": "middle"}},
                "y2": {"field": "rUp"}
              }
            },
            {
              "data": {"name": "ptSM"},
              "mark": {"type": "rule", "color": "black", "strokeWidth": 1, "strokeDash": [2, 2]},
              "encoding": {
                "x": {"field": "lo", "type": "quantitative", "axis": {"orient": "top", "values": [30,50,70,90,110,130,150,170,190], "tickSize": -4, "labels": false,
                      "title": "τ1", "titleFontSize": 11, "titleX": 437.5, "titleY": 106, "titleAlign": "left", "titleBaseline": "alphabetic"}},
                "x2": {"field": "hi"},
                "y": {"datum": 1, "type": "quantitative", "axis": {"orient": "left", "values": [0.1,0.2,0.3,0.4,0.6,0.7,0.8,0.9,1.1,1.2,1.3,1.4,1.6,1.7,1.8,1.9], "tickSize": -6, "labels": false, "title": null}}
              }
            },
            {
              "data": {"name": "ptData"},
              "mark": {"type": "rule", "color": "black", "strokeWidth": 1.5, "clip": true},
              "encoding": {
                "x": {"field": "x", "type": "quantitative", "axis": {"orient": "bottom", "values": [30,50,70,90,110,130,150,170,190], "tickSize": -4, "labels": false,
                      "title": "p", "titleX": 437, "titleY": 38, "titleAlign": "right", "titleBaseline": "alphabetic"}},
                "y": {"field": "rLo", "type": "quantitative", "axis": {"orient": "right", "values": [0.5, 1, 1.5], "tickSize": -11, "labels": false, "title": null}},
                "y2": {"field": "rHi"}
              }
            },
            {
              "data": {"name": "ptData"},
              "mark": {"type": "circle", "size": 80, "color": "black", "opacity": 1, "clip": true},
              "encoding": {
                "x": {"field": "x", "type": "quantitative", "axis": {"orient": "top", "values": [20,40,60,80,100,120,140,160,180,200], "tickSize": -7, "labels": false,
                      "title": "T", "titleFontSize": 11, "titleX": 438, "titleY": 120, "titleAlign": "left", "titleBaseline": "alphabetic"}},
                "y": {"field": "r", "type": "quantitative", "axis": {"orient": "right", "values": [0.1,0.2,0.3,0.4,0.6,0.7,0.8,0.9,1.1,1.2,1.3,1.4,1.6,1.7,1.8,1.9], "tickSize": -6, "labels": false, "title": null}}
              }
            }
          ]
        }
      ]
    },
    {
      "spacing": 4,
      "bounds": "flush",
      "resolve": {"scale": {"fill": "independent", "stroke": "independent"}, "legend": {"fill": "independent", "stroke": "independent"}},
      "title": {"text": "(b) mT distribution in the multijet VR", "orient": "bottom", "anchor": "start", "frame": "bounds", "font": "Liberation Serif", "fontSize": 30, "fontWeight": "normal", "color": "black", "baseline": "top", "offset": 20},
      "vconcat": [
        {
          "width": 497,
          "height": 280,
          "resolve": {"axis": {"x": "independent", "y": "independent"}},
          "layer": [
            {
              "data": {"name": "mtBkg"},
              "transform": [{"stack": "n", "groupby": ["lo"], "as": ["y0", "y1"]}],
              "mark": {"type": "rect", "invalid": "show"},
              "encoding": {
                "x": {"field": "lo", "type": "quantitative", "scale": {"domain": [0, 800], "nice": false, "zero": false},
                      "axis": {"orient": "bottom", "values": [0,100,200,300,400,500,600,700,800], "tickSize": -10, "labels": false, "title": null}},
                "x2": {"field": "hi"},
                "y": {"field": "y0", "type": "quantitative", "scale": {"type": "log", "domain": [0.12, 21000], "nice": false, "clamp": true},
                      "axis": {"orient": "left", "values": [1, 10, 100, 1000, 10000], "tickSize": -15, "labelPadding": 22,
                               "labelExpr": "datum.value == 1 ? '1' : datum.value == 10 ? '10' : datum.value == 100 ? '10²' : datum.value == 1000 ? '10³' : '10⁴'",
                               "title": "Events / 25 GeV", "titleX": -71, "titleY": 0, "titleAngle": -90, "titleAlign": "right", "titleBaseline": "middle"}},
                "y2": {"field": "y1"},
                "fill": {"field": "proc", "type": "nominal",
                         "scale": {"domain": ["Data 2012", "Multijets", "Z+jets", "Dibosons", "Standard Model", "W+jets", "Top Quarks"],
                                   "range": ["black", "white", "#0000f0", "#663300", "#ffcc33", "#3399ff", "#62c864"]},
                         "legend": {"orient": "none", "legendX": 217.5, "legendY": 9.5, "columns": 2, "title": null, "padding": 0,
                                    "symbolSize": 361, "symbolOpacity": 1, "symbolStrokeWidth": 1.3, "labelOffset": 5, "rowPadding": 3, "columnPadding": 0,
                                    "labelFont": "Liberation Sans", "labelFontSize": 13, "labelFontWeight": "bold", "labelColor": "black",
                                    "encode": {"symbols": {"update": {
                                      "shape": {"signal": "datum.value === 'Data 2012' ? 'M-1,0H1M0,-0.75V0.75M-0.42,0A0.42,0.42,0,1,0,0.42,0A0.42,0.42,0,1,0,-0.42,0Z' : 'M-1,-0.8H1V0.8H-1Z'"},
                                      "stroke": {"signal": "datum.value === 'Standard Model' ? 'transparent' : 'black'"},
                                      "opacity": {"value": 1}}}}}}
              }
            },
            {
              "data": {"name": "mtSM"},
              "mark": {"type": "rect", "fill": "#ffc61a", "opacity": 0.8, "invalid": "show"},
              "encoding": {
                "x": {"field": "lo", "type": "quantitative", "axis": {"orient": "bottom", "values": [25,50,75,125,150,175,225,250,275,325,350,375,425,450,475,525,550,575,625,650,675,725,750,775], "tickSize": -5, "labels": false, "title": null}},
                "x2": {"field": "hi"},
                "y": {"field": "down", "type": "quantitative", "axis": {"orient": "left", "values": [0.2,0.3,0.4,0.5,0.6,0.7,0.8,0.9,2,3,4,5,6,7,8,9,20,30,40,50,60,70,80,90,200,300,400,500,600,700,800,900,2000,3000,4000,5000,6000,7000,8000,9000,20000], "tickSize": -8, "labels": false, "title": null}},
                "y2": {"field": "up"}
              }
            },
            {
              "data": {"name": "mtBkg"},
              "transform": [{"stack": "n", "groupby": ["lo"], "as": ["y0", "y1"]}],
              "mark": {"type": "rule", "color": "black", "strokeWidth": 1.2, "invalid": "show"},
              "encoding": {
                "x": {"field": "lo", "type": "quantitative", "axis": {"orient": "top", "values": [0,100,200,300,400,500,600,700,800], "tickSize": -10, "labels": false, "title": null}},
                "x2": {"field": "hi"},
                "y": {"field": "y1", "type": "quantitative", "axis": {"orient": "right", "values": [1, 10, 100, 1000, 10000], "tickSize": -15, "labels": false, "title": null}}
              }
            },
            {
              "data": {"name": "mtBkg"},
              "transform": [{"stack": "n", "groupby": ["lo"], "as": ["y0", "y1"]}],
              "mark": {"type": "line", "interpolate": "step-after", "color": "black", "strokeWidth": 1.2, "invalid": "show"},
              "encoding": {
                "x": {"field": "lo", "type": "quantitative", "axis": {"orient": "top", "values": [25,50,75,125,150,175,225,250,275,325,350,375,425,450,475,525,550,575,625,650,675,725,750,775], "tickSize": -5, "labels": false, "title": null}},
                "y": {"field": "y1", "type": "quantitative", "axis": {"orient": "right", "values": [0.2,0.3,0.4,0.5,0.6,0.7,0.8,0.9,2,3,4,5,6,7,8,9,20,30,40,50,60,70,80,90,200,300,400,500,600,700,800,900,2000,3000,4000,5000,6000,7000,8000,9000,20000], "tickSize": -8, "labels": false, "title": null}},
                "detail": {"field": "proc"}
              }
            },
            {
              "data": {"name": "mtSM"},
              "mark": {"type": "rule", "strokeWidth": 2.2, "invalid": "show"},
              "encoding": {
                "x": {"field": "lo", "type": "quantitative", "axis": null},
                "x2": {"field": "hi"},
                "y": {"field": "sm", "type": "quantitative", "axis": null},
                "stroke": {"datum": "Standard Model", "type": "nominal", "scale": {"range": ["#ee2200"]},
                           "legend": {"orient": "none", "legendX": 302.5, "legendY": 9.5, "title": null, "padding": 0, "symbolType": "stroke",
                                      "symbolSize": 361, "symbolStrokeWidth": 2.5, "labelExpr": "''", "labelFontSize": 13, "labelOffset": 5}}
              }
            },
            {
              "data": {"name": "mtSM"},
              "mark": {"type": "line", "interpolate": "step-after", "color": "#ee2200", "strokeWidth": 2.2, "invalid": "show"},
              "encoding": {
                "x": {"field": "lo", "type": "quantitative", "axis": null},
                "y": {"field": "sm", "type": "quantitative", "axis": null}
              }
            },
            {
              "data": {"name": "mtData"},
              "mark": {"type": "rule", "color": "black", "strokeWidth": 1.5},
              "encoding": {
                "x": {"field": "x", "type": "quantitative", "axis": null},
                "y": {"field": "lo", "type": "quantitative", "axis": null},
                "y2": {"field": "hi"}
              }
            },
            {
              "data": {"name": "mtData"},
              "mark": {"type": "circle", "size": 80, "color": "black", "opacity": 1},
              "encoding": {
                "x": {"field": "x", "type": "quantitative", "axis": null},
                "y": {"field": "n", "type": "quantitative", "axis": null}
              }
            },
            {
              "data": {"values": [{}]},
              "mark": {"type": "text", "text": "ATLAS", "font": "Liberation Sans", "fontSize": 19.5, "fontWeight": "bold", "fontStyle": "italic", "align": "left", "baseline": "alphabetic", "color": "black"},
              "encoding": {
                "x": {"datum": 43.5, "type": "quantitative", "axis": null},
                "y": {"datum": 5640, "type": "quantitative", "axis": null}
              }
            },
            {
              "data": {"values": [{}]},
              "mark": {"type": "text", "text": "√s=8 TeV, 20.3 fb⁻¹", "font": "Liberation Sans", "fontSize": 18, "align": "left", "baseline": "alphabetic", "color": "black"},
              "encoding": {
                "x": {"datum": 43.5, "type": "quantitative", "axis": null},
                "y": {"datum": 1197, "type": "quantitative", "axis": null}
              }
            }
          ]
        },
        {
          "width": 497,
          "height": 77,
          "resolve": {"axis": {"x": "independent", "y": "independent"}},
          "layer": [
            {
              "data": {"name": "mtSM"},
              "mark": {"type": "rect", "fill": "#ffcc00"},
              "encoding": {
                "x": {"field": "lo", "type": "quantitative", "scale": {"domain": [0, 800], "nice": false, "zero": false},
                      "axis": {"orient": "bottom", "values": [0,100,200,300,400,500,600,700,800], "tickSize": -7, "labelPadding": 10,
                               "title": "[GeV]", "titleX": 497, "titleY": 38, "titleAlign": "right", "titleBaseline": "alphabetic"}},
                "x2": {"field": "hi"},
                "y": {"field": "rDown", "type": "quantitative", "scale": {"domain": [0, 2], "nice": false, "zero": false},
                      "axis": {"orient": "left", "values": [0.5, 1, 1.5], "format": "~g", "tickSize": -11, "labelPadding": 15,
                               "title": "Data/SM", "titleX": -71, "titleY": 0, "titleAngle": -90, "titleAlign": "right", "titleBaseline": "middle"}},
                "y2": {"field": "rUp"}
              }
            },
            {
              "data": {"name": "mtSM"},
              "mark": {"type": "rule", "color": "black", "strokeWidth": 1, "strokeDash": [2, 2]},
              "encoding": {
                "x": {"field": "lo", "type": "quantitative", "axis": {"orient": "top", "values": [25,50,75,125,150,175,225,250,275,325,350,375,425,450,475,525,550,575,625,650,675,725,750,775], "tickSize": -4, "labels": false,
                      "title": "τ1", "titleFontSize": 11, "titleX": 437.5, "titleY": 106, "titleAlign": "left", "titleBaseline": "alphabetic"}},
                "x2": {"field": "hi"},
                "y": {"datum": 1, "type": "quantitative", "axis": {"orient": "left", "values": [0.1,0.2,0.3,0.4,0.6,0.7,0.8,0.9,1.1,1.2,1.3,1.4,1.6,1.7,1.8,1.9], "tickSize": -6, "labels": false, "title": null}}
              }
            },
            {
              "data": {"name": "mtData"},
              "mark": {"type": "rule", "color": "black", "strokeWidth": 1.5, "clip": true},
              "encoding": {
                "x": {"field": "x", "type": "quantitative", "axis": {"orient": "bottom", "values": [25,50,75,125,150,175,225,250,275,325,350,375,425,450,475,525,550,575,625,650,675,725,750,775], "tickSize": -4, "labels": false,
                      "title": "m", "titleX": 437, "titleY": 38, "titleAlign": "right", "titleBaseline": "alphabetic"}},
                "y": {"field": "rLo", "type": "quantitative", "axis": {"orient": "right", "values": [0.5, 1, 1.5], "tickSize": -11, "labels": false, "title": null}},
                "y2": {"field": "rHi"}
              }
            },
            {
              "data": {"name": "mtData"},
              "mark": {"type": "circle", "size": 80, "color": "black", "opacity": 1, "clip": true},
              "encoding": {
                "x": {"field": "x", "type": "quantitative", "axis": {"orient": "top", "values": [0,100,200,300,400,500,600,700,800], "tickSize": -7, "labels": false,
                      "title": "T", "titleFontSize": 11, "titleX": 438, "titleY": 120, "titleAlign": "left", "titleBaseline": "alphabetic"}},
                "y": {"field": "r", "type": "quantitative", "axis": {"orient": "right", "values": [0.1,0.2,0.3,0.4,0.6,0.7,0.8,0.9,1.1,1.2,1.3,1.4,1.6,1.7,1.8,1.9], "tickSize": -6, "labels": false, "title": null}}
              }
            }
          ]
        }
      ]
    }
  ]
}
